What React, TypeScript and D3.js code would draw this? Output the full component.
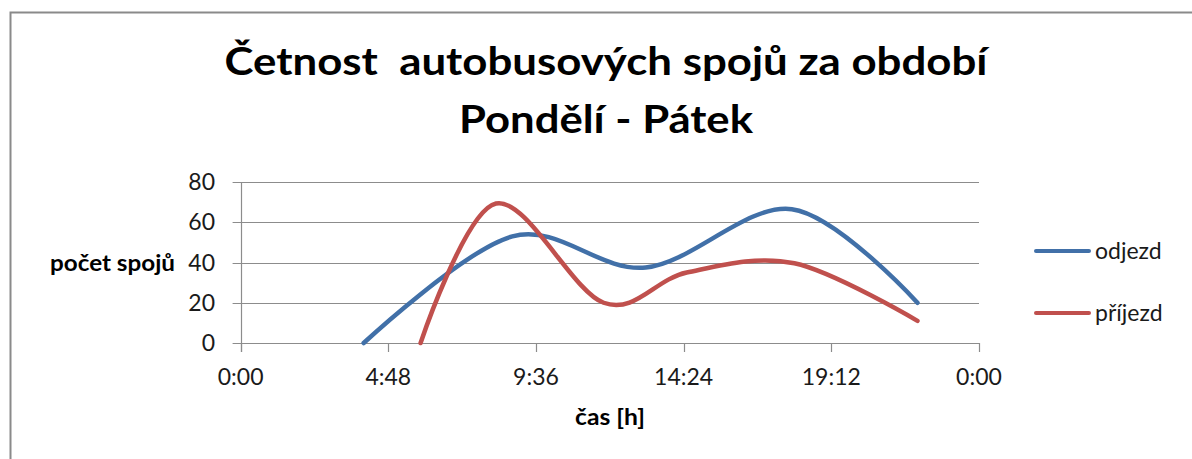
import { useEffect, useRef } from 'react';
import * as d3 from 'd3';

// časy (h:mm) a počty spojů
const ODJEZD_CASY = ['4:00', '8:50', '13:10', '17:55', '22:00'];
const ODJEZD = [0, 53, 37.5, 66.5, 20];
const PRIJEZD_CASY = ['5:51', '8:18', '11:48', '14:30', '18:00', '22:00'];
const PRIJEZD = [0, 69.3, 20, 35, 39.6, 11];

const Y_TICKS = [0, 20, 40, 60, 80];
const X_TICKS = [0, 0.2, 0.4, 0.6, 0.8, 1];
const X_TICK_LABELS = ['0:00', '4:48', '9:36', '14:24', '19:12', '0:00'];

const SERIES_NAMES = ['odjezd', 'příjezd'];
const COLORS = ['#4170A8', '#C0504D'];

const TITLE = ['Četnost  autobusových spojů za období', 'Pondělí - Pátek'];

const W = 1192;
const H = 459;
const FONT = 'Lato, "Open Sans", sans-serif';

// "h:mm" -> zlomek dne (jako v Excelu)
const toDay = (s: string) => {
  const [h, m] = s.split(':').map(Number);
  return (h + m / 60) / 24;
};

export default function App() {
  const svgRef = useRef<SVGSVGElement>(null);

  useEffect(() => {
    if (!svgRef.current) return;
    const svg = d3.select(svgRef.current);
    svg.selectAll('*').remove();

    const x = d3.scaleLinear().domain([0, 1]).range([240.6, 979]);
    const y = d3.scaleLinear().domain([0, 80]).range([343, 182]);

    // rámeček
    svg.append('path')
      .attr('d', `M10.5,${H} V12.5 H${W}`)
      .attr('fill', 'none')
      .attr('stroke', '#8a8a8a')
      .attr('stroke-width', 2);

    // nadpis
    const titleWidths = [763, 294];
    TITLE.forEach((t, i) => {
      svg.append('text')
        .attr('x', 606)
        .attr('y', 75 + i * 58)
        .attr('text-anchor', 'middle')
        .attr('textLength', titleWidths[i])
        .attr('lengthAdjust', 'spacingAndGlyphs')
        .style('font-family', FONT)
        .style('font-weight', 700)
        .style('font-size', '39px')
        .style('white-space', 'pre')
        .attr('fill', '#000')
        .text(t);
    });

    // mřížka + značky osy y
    svg.append('g')
      .selectAll('line')
      .data(Y_TICKS)
      .join('line')
      .attr('x1', x(0) - 8)
      .attr('x2', x(1))
      .attr('y1', (d) => Math.round(y(d)) + 0.5)
      .attr('y2', (d) => Math.round(y(d)) + 0.5)
      .attr('stroke', '#8c8c8c')
      .attr('stroke-width', 1.2);

    svg.append('g')
      .selectAll('text')
      .data(Y_TICKS)
      .join('text')
      .attr('x', 215)
      .attr('y', (d) => y(d))
      .attr('dy', '0.35em')
      .attr('text-anchor', 'end')
      .style('font-family', FONT)
      .style('font-size', '23px')
      .attr('fill', '#1a1a1a')
      .text((d) => d);

    // osa y
    svg.append('line')
      .attr('x1', Math.round(x(0)) + 0.5)
      .attr('x2', Math.round(x(0)) + 0.5)
      .attr('y1', y(80))
      .attr('y2', y(0) + 9)
      .attr('stroke', '#8c8c8c')
      .attr('stroke-width', 1.2);

    // značky a popisky osy x
    svg.append('g')
      .selectAll('line')
      .data(X_TICKS)
      .join('line')
      .attr('x1', (d) => Math.round(x(d)) + 0.5)
      .attr('x2', (d) => Math.round(x(d)) + 0.5)
      .attr('y1', y(0))
      .attr('y2', y(0) + 9)
      .attr('stroke', '#8c8c8c')
      .attr('stroke-width', 1.2);

    svg.append('g')
      .selectAll('text')
      .data(X_TICKS)
      .join('text')
      .attr('x', (d) => x(d))
      .attr('y', 385)
      .attr('text-anchor', 'middle')
      .style('font-family', FONT)
      .style('font-size', '23px')
      .attr('fill', '#1a1a1a')
      .text((_, i) => X_TICK_LABELS[i]);

    // názvy os
    svg.append('text')
      .attr('x', 175)
      .attr('y', 271)
      .attr('text-anchor', 'end')
      .attr('textLength', 125)
      .attr('lengthAdjust', 'spacingAndGlyphs')
      .style('font-family', FONT)
      .style('font-weight', 700)
      .style('font-size', '22px')
      .attr('fill', '#000')
      .text('počet spojů');

    svg.append('text')
      .attr('x', 610)
      .attr('y', 425)
      .attr('text-anchor', 'middle')
      .attr('textLength', 70)
      .attr('lengthAdjust', 'spacingAndGlyphs')
      .style('font-family', FONT)
      .style('font-weight', 700)
      .style('font-size', '22px')
      .attr('fill', '#000')
      .text('čas [h]');

    // řady
    const series = [
      ODJEZD_CASY.map((t, i) => [toDay(t), ODJEZD[i]] as [number, number]),
      PRIJEZD_CASY.map((t, i) => [toDay(t), PRIJEZD[i]] as [number, number]),
    ];
    const line = d3.line<[number, number]>()
      .x((d) => x(d[0]))
      .y((d) => y(d[1]))
      .curve(d3.curveCardinal.tension(0));

    series.forEach((s, i) => {
      svg.append('path')
        .attr('d', line(s))
        .attr('fill', 'none')
        .attr('stroke', COLORS[i])
        .attr('stroke-width', 4.5)
        .attr('stroke-linecap', 'round')
        .attr('stroke-linejoin', 'round');
    });

    // legenda
    SERIES_NAMES.forEach((name, i) => {
      const ly = 251 + i * 62;
      svg.append('line')
        .attr('x1', 1036)
        .attr('x2', 1089)
        .attr('y1', ly)
        .attr('y2', ly)
        .attr('stroke', COLORS[i])
        .attr('stroke-width', 4)
        .attr('stroke-linecap', 'round');
      svg.append('text')
        .attr('x', 1095)
        .attr('y', ly)
        .attr('dy', '0.35em')
        .style('font-family', FONT)
        .style('font-size', '23px')
        .attr('fill', '#1a1a1a')
        .text(name);
    });
  }, []);

  return (
    <svg
      ref={svgRef}
      width={W}
      height={H}
      viewBox={`0 0 ${W} ${H}`}
      style={{ position: 'absolute', left: 0, top: 0, background: '#fff', display: 'block' }}
    />
  );
}
